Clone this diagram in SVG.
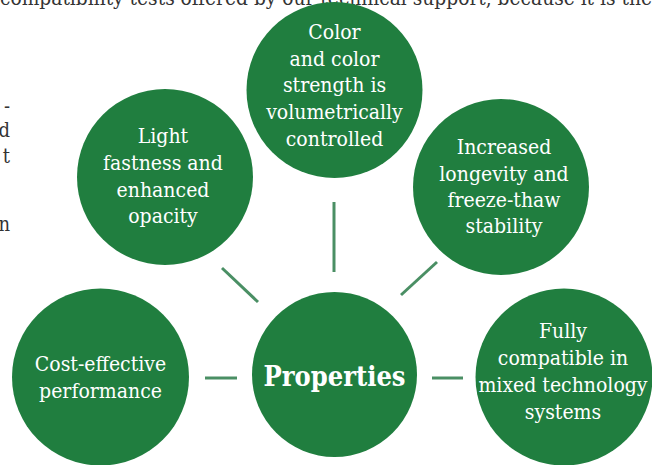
<svg xmlns="http://www.w3.org/2000/svg" width="652" height="465" viewBox="0 0 652 465">
<style>
.bg{font-family:"DejaVu Serif Condensed","DejaVu Serif","Liberation Serif",serif;font-size:20px;fill:#333333}
.node{fill:#207e3f}
.t{font-family:"DejaVu Serif Condensed","DejaVu Serif","Liberation Serif",serif;font-size:21px;fill:#ffffff;text-anchor:middle}
.big{font-family:"DejaVu Serif Condensed","DejaVu Serif","Liberation Serif",serif;font-size:27px;font-weight:bold;fill:#ffffff;text-anchor:middle}
.c{stroke:#4a8f64;stroke-width:3;fill:none}
</style>
<rect width="652" height="465" fill="#ffffff"/>
<g id="background-text">
<text class="bg" x="0" y="4.5" textLength="652" lengthAdjust="spacingAndGlyphs">compatibility tests offered by our technical support, because it is the</text>
<text class="bg" x="10" y="113" text-anchor="end">-</text>
<text class="bg" x="10" y="137" text-anchor="end">d</text>
<text class="bg" x="10" y="163" text-anchor="end">t</text>
<text class="bg" x="10" y="231" text-anchor="end">n</text>
</g>
<g id="connectors">
<line class="c" x1="334" y1="202" x2="334" y2="272"/>
<line class="c" x1="222" y1="268" x2="258" y2="302"/>
<line class="c" x1="437" y1="262" x2="401" y2="295"/>
<line class="c" x1="205" y1="378" x2="237" y2="378"/>
<line class="c" x1="432" y1="378" x2="463" y2="378"/>
</g>
<g id="node-color">
<circle class="node" cx="334.5" cy="90" r="88"/>
<text class="t" x="334.5" y="38.5">Color</text>
<text class="t" x="334.5" y="65.5">and color</text>
<text class="t" x="334.5" y="92">strength is</text>
<text class="t" x="334.5" y="119">volumetrically</text>
<text class="t" x="334.5" y="146">controlled</text>
</g>
<g id="node-light">
<circle class="node" cx="165" cy="177" r="88"/>
<text class="t" x="163" y="143">Light</text>
<text class="t" x="163" y="170">fastness and</text>
<text class="t" x="163" y="197">enhanced</text>
<text class="t" x="163" y="223">opacity</text>
</g>
<g id="node-longevity">
<circle class="node" cx="501" cy="187" r="88"/>
<text class="t" x="504" y="154">Increased</text>
<text class="t" x="504" y="181">longevity and</text>
<text class="t" x="504" y="207">freeze-thaw</text>
<text class="t" x="504" y="233">stability</text>
</g>
<g id="node-cost">
<circle class="node" cx="100.5" cy="377" r="88.5"/>
<text class="t" x="100.5" y="371">Cost-effective</text>
<text class="t" x="100.5" y="398">performance</text>
</g>
<g id="node-fully">
<circle class="node" cx="564" cy="377" r="88.5"/>
<text class="t" x="563" y="338">Fully</text>
<text class="t" x="563" y="365">compatible in</text>
<text class="t" x="563" y="392">mixed technology</text>
<text class="t" x="563" y="419">systems</text>
</g>
<g id="node-properties">
<circle class="node" cx="334.5" cy="374.5" r="82.5"/>
<text class="big" x="334.5" y="386">Properties</text>
</g>
</svg>
